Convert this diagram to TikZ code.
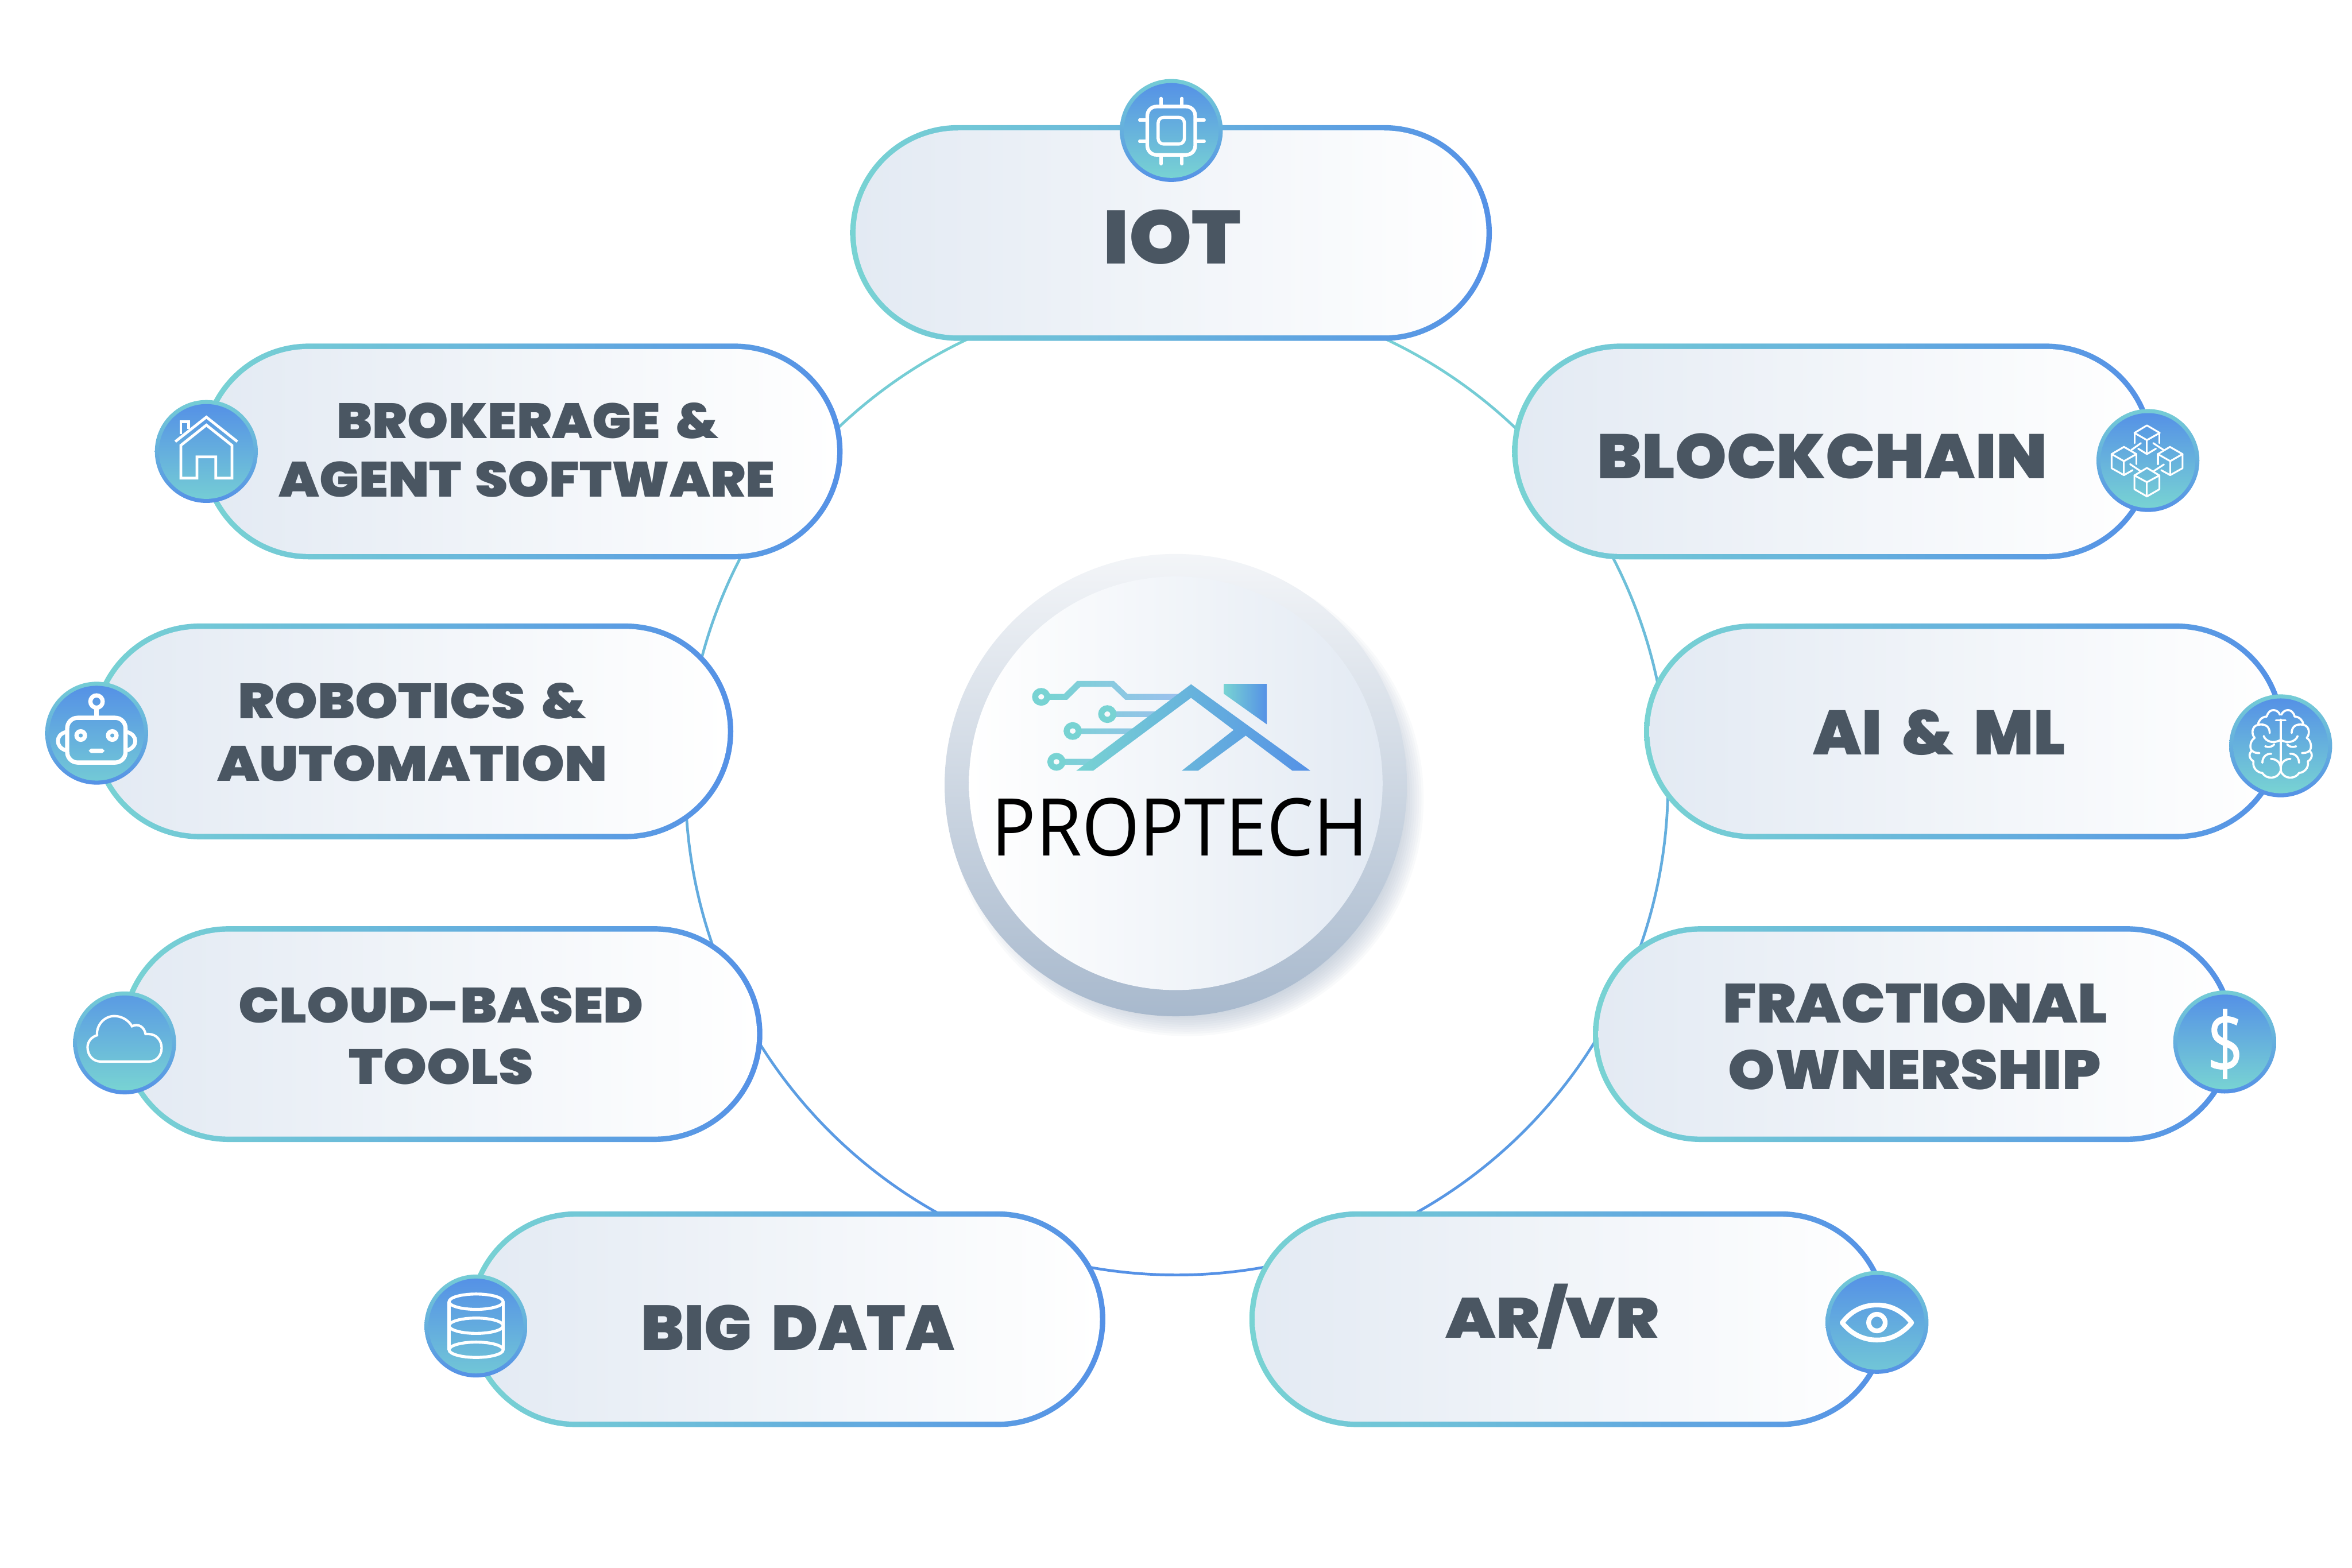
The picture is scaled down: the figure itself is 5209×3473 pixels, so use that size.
\documentclass[tikz,border=0pt]{standalone}
\usepackage{graphicx}
\usepackage{fontspec}
\usetikzlibrary{shapes.misc}
\newfontfamily\pillfont{Poppins Black}
\newfontfamily\hubfont{Open Sans}
\newfontfamily\dolfont[FakeBold=0.8]{Open Sans}
\definecolor{tealc}{HTML}{78D3D3}
\definecolor{bluec}{HTML}{5591E6}
\definecolor{pilll}{HTML}{E3EAF3}
\definecolor{labc}{HTML}{4A5662}
\definecolor{lavc}{HTML}{9CC0EE}
\definecolor{shadc}{HTML}{93A6BF}
\definecolor{hubtop}{HTML}{F3F5F8}
\definecolor{hubbot}{HTML}{A8B9CD}
\newdimen\pxu \pxu=0.01cm
\tikzset{
  pillout/.style={rounded rectangle,inner sep=0pt,outer sep=0pt,left color=tealc,right color=bluec},
  pillin/.style={rounded rectangle,inner sep=0pt,outer sep=0pt,left color=pilll,right color=white},
  ballout/.style={circle,inner sep=0pt,outer sep=0pt,minimum size=228\pxu,top color=tealc!90!bluec,bottom color=bluec},
  labeltext/.style={inner sep=0pt,outer sep=0pt,anchor=base,text=labc},
  ico/.style={draw=white,line width=#1*0.01cm,fill=none,line join=miter},
  icor/.style={draw=white,line width=#1*0.01cm,fill=none,line join=round,line cap=round},
}
% name, cx, cy, w, h
\newcommand{\pillbox}[5]{%
  \node[pillout,minimum width=#4\pxu,minimum height=#5\pxu] (#1o) at (#2,#3) {};
  \pgfmathsetmacro{\iw}{#4-24}\pgfmathsetmacro{\ih}{#5-24}%
  \node[pillin,minimum width=\iw\pxu,minimum height=\ih\pxu] (#1i) at (#2,#3) {};
}
% name, x, baseline y, W, H, text
\newcommand{\lab}[6]{\node[labeltext] (#1) at (#2,#3) {\resizebox{#4\pxu}{#5\pxu}{\pillfont #6}};}
% name, x, y, shading options of inner disc
\newcommand{\ball}[4]{%
  \node[ballout] (#1o) at (#2,#3) {};
  \node[circle,inner sep=0pt,outer sep=0pt,minimum size=210\pxu,#4] (#1i) at (#2,#3) {};
}
\newcommand{\brainhalf}{%
  \draw[icor=4.6] (-5,-192) .. controls (-15,-225) and (-75,-245) .. (-93,-180)
    .. controls (-125,-178) and (-148,-155) .. (-151,-125)
    .. controls (-195,-115) and (-195,-60) .. (-173,-38)
    .. controls (-210,-15) and (-205,40) .. (-191,48)
    .. controls (-220,70) and (-205,105) .. (-181,118)
    .. controls (-190,165) and (-150,195) .. (-123,195)
    .. controls (-95,240) and (-20,240) .. (0,180);
  \draw[icor=4.6] (-32,-155) -- (0,-155);
  \draw[icor=4.6] (-151,-125) .. controls (-100,-135) and (-73,-110) .. (-73,-70);
  \draw[icor=4.6] (-113,-50) .. controls (-100,-15) and (-50,5) .. (0,-25);
  \draw[icor=4.6] (-103,18) .. controls (-75,28) and (-55,20) .. (-43,5);
  \draw[icor=4.6] (-191,48) .. controls (-175,62) and (-160,63) .. (-141,63);
  \draw[icor=4.6] (-63,68) .. controls (-95,65) and (-122,90) .. (-122,128);
  \draw[icor=4.6] (-65,102) .. controls (-30,102) and (0,125) .. (0,165);
}
\begin{document}
\begin{tikzpicture}[x=0.01cm,y=-0.01cm]
\useasboundingbox (0,0) rectangle (5209,3473);
\fill[white] (0,0) rectangle (5209,3473);
% ring
\shade[even odd rule,top color=tealc,bottom color=bluec] (2606,1736) circle (1091) (2606,1736) circle (1085);
% pills
\pillbox{iot}{2593.5}{516}{1421}{478}
\pillbox{brok}{1155.5}{1000}{1421}{478}
\pillbox{robo}{913.5}{1620}{1421}{478}
\pillbox{clou}{978}{2290.5}{1421}{478}
\pillbox{bigd}{1742.5}{2922}{1411}{478}
\pillbox{bloc}{4059.5}{1000}{1421}{478}
\pillbox{aiml}{4350}{1620}{1418}{478}
\pillbox{frac}{4238.5}{2290.5}{1421}{478}
\pillbox{arvr}{3474.5}{2922}{1415}{478}
% labels
\lab{tiot}{2596}{584}{305}{120}{IOT}
\lab{tbr1}{1169}{971}{845}{79}{BROKERAGE\hspace{.12em} \&}
\lab{tbr2}{1167}{1101}{1099}{79}{AGENT\hspace{.08em} SOFTWARE}
\lab{tro1}{913}{1592}{772}{79}{ROBOTICS\hspace{.12em} \&}
\lab{tro2}{913}{1730}{864}{79}{AUTOMATION}
\lab{tcl1}{977}{2265}{897}{79}{CLOUD-BASED}
\lab{tcl2}{977}{2401}{409}{79}{TOOLS}
\lab{tbi}{1767}{2990}{694}{100}{BIG\hspace{.14em} DATA}
\lab{tbl}{4036}{1060}{997}{100}{BLOCKCHAIN}
\lab{tai}{4295}{1672}{558}{100}{AI\hspace{.14em} \&\hspace{.14em} ML}
\lab{tfr1}{4242}{2266}{852}{88}{FRACTIONAL}
\lab{tfr2}{4240}{2413}{826}{88}{OWNERSHIP}
\lab{tar}{3438}{2964}{472}{120}{AR/VR}
% icon discs
\ball{biot}{2594}{289}{top color=bluec,bottom color=tealc}
\ball{bbrk}{457}{1000}{top color=bluec,bottom color=tealc!90!bluec}
\ball{brob}{214}{1624}{top color=bluec,bottom color=tealc!85!bluec}
\ball{bclo}{276}{2310}{top color=bluec!85!tealc,middle color=tealc!80!bluec,bottom color=tealc}
\ball{bbig}{1054}{2937}{top color=bluec,bottom color=tealc!80!bluec}
\ball{bblo}{4757}{1020}{top color=bluec,bottom color=tealc}
\ball{bain}{5051}{1652}{top color=bluec,bottom color=tealc}
\ball{bfra}{4927}{2308}{top color=bluec,bottom color=tealc}
\ball{bar}{4157}{2929}{top color=bluec,bottom color=tealc!80!bluec}
% chip icon
\draw[ico=8,rounded corners=20\pxu] (2541,236) rectangle (2647,343);
\draw[ico=7,rounded corners=12\pxu] (2565,260) rectangle (2623,319);
\foreach \xx in {2571.5,2617.5}{
  \draw[icor=7] (\xx,218) -- (\xx,236);
  \draw[icor=7] (\xx,343) -- (\xx,363);
}
\foreach \yy in {266,313}{
  \draw[icor=7] (2524,\yy) -- (2541,\yy);
  \draw[icor=7] (2647,\yy) -- (2667,\yy);
}
% house icon
\begin{scope}[shift={(300,850)},x=0.00333cm,y=-0.00333cm]
  \draw[ico=6] (265,385) -- (472,222) -- (678,385);
  \draw[ico=6] (302,335) -- (302,253) -- (355,253) -- (355,300);
  \draw[ico=6] (642,410) -- (472,275) -- (302,410) -- (302,628) -- (409,628) -- (409,487) -- (534,487) -- (534,628) -- (642,628) -- cycle;
\end{scope}
% robot icon
\begin{scope}[shift={(70,1490)},x=0.00333cm,y=-0.00333cm]
  \draw[ico=9.3] (432,192) circle (41);
  \draw[ico=9.3] (432,240) -- (432,300);
  \draw[ico=9.3,rounded corners=23\pxu] (237,300) rectangle (625,598);
  \draw[ico=9.5] (327,418) circle (28);
  \draw[ico=9.5] (537,418) circle (28);
  \fill[white] (380,520) -- (395,505) -- (470,505) -- (486,520) -- (470,535) -- (395,535) -- cycle;
  \draw[ico=8.5] (228,395) .. controls (190,405) and (175,430) .. (175,455) .. controls (175,480) and (190,505) .. (228,517);
  \draw[ico=8.5] (636,395) .. controls (672,405) and (690,430) .. (690,455) .. controls (690,480) and (672,505) .. (636,517);
\end{scope}
% cloud icon
\begin{scope}[shift={(130,2160)},x=0.00333cm,y=-0.00333cm]
  \draw[ico=5.3] (280,575) .. controls (230,575) and (192,535) .. (192,480)
    .. controls (192,440) and (220,410) .. (255,400)
    .. controls (250,330) and (305,272) .. (370,272)
    .. controls (420,272) and (465,300) .. (488,340)
    .. controls (530,318) and (570,345) .. (578,392)
    -- (600,392) .. controls (650,392) and (685,435) .. (685,485)
    .. controls (685,535) and (650,575) .. (600,575) -- cycle;
\end{scope}
% database icon
\begin{scope}[shift={(910,2800)},x=0.00333cm,y=-0.00333cm]
  \foreach \yy in {250,410,570}{\draw[ico=6.6] (434,\yy) ellipse (180 and 51);}
  \draw[ico=6.6] (254,250) -- (254,570);
  \draw[ico=6.6] (614,250) -- (614,570);
\end{scope}
% blockchain icon
\begin{scope}[shift={(4620,880)},x=0.00333cm,y=-0.00333cm]
  \draw[icor=4] (405,187) -- (490,237) -- (405,285) -- (322,237) -- cycle;
  \draw[icor=4] (405,285) -- (405,378);
  \draw[icor=4] (322,237) -- (322,305);
  \draw[icor=4] (488,237) -- (488,305);
  \draw[icor=4] (347,342) -- (405,378) -- (465,342);
  \draw[icor=4] (365,305) -- (302,350);
  \draw[icor=4] (447,305) -- (515,350);
  \draw[icor=4] (252,330) -- (335,378) -- (252,425) -- (170,378) -- cycle;
  \draw[icor=4] (170,378) -- (170,472) -- (252,518) -- (310,485);
  \draw[icor=4] (252,425) -- (252,518);
  \draw[icor=4] (335,378) -- (335,445);
  \draw[icor=4] (558,330) -- (642,378) -- (560,425) -- (478,378) -- cycle;
  \draw[icor=4] (642,378) -- (642,472) -- (560,518) -- (500,485);
  \draw[icor=4] (560,425) -- (560,518);
  \draw[icor=4] (478,378) -- (478,445);
  \draw[icor=4] (405,470) -- (488,520) -- (405,565) -- (322,520) -- cycle;
  \draw[icor=4] (322,520) -- (322,612) -- (405,660) -- (488,612) -- (488,520);
  \draw[icor=4] (405,565) -- (405,660);
  \draw[icor=4] (293,445) -- (360,490);
  \draw[icor=4] (518,447) -- (452,490);
\end{scope}
% brain icon
\begin{scope}[shift={(5051,1647)},x=0.00333cm,y=-0.00333cm]
  \brainhalf
\end{scope}
\begin{scope}[shift={(5051,1647)},x=-0.00333cm,y=-0.00333cm]
  \brainhalf
\end{scope}
\draw[icor=4.6] (5051,1594) -- (5051,1707);
% dollar icon
\node[inner sep=0pt,text=white] (tdol) at (4928,2312) {\resizebox*{80\pxu}{154\pxu}{\dolfont \$}};
% eye icon
\begin{scope}[shift={(4020,2790)},x=0.00333cm,y=-0.00333cm]
  \draw[ico=10.6,line join=round] (180,420) .. controls (240,340) and (320,302) .. (411,302) .. controls (500,302) and (580,340) .. (642,420) .. controls (580,495) and (500,535) .. (411,535) .. controls (320,535) and (240,495) .. (180,420) -- cycle;
  \draw[ico=10.6] (411,419) circle (55);
\end{scope}
% hub
\foreach \rr in {475,480,...,525}{
  \fill[shadc,opacity=0.05] (2628,1770) circle (\rr);
}
\node[circle,inner sep=0pt,outer sep=0pt,minimum size=1024\pxu,top color=hubtop,bottom color=hubbot] (hubo) at (2604,1739) {};
\node[circle,inner sep=0pt,outer sep=0pt,minimum size=916\pxu,left color=white,right color=pilll] (hubi) at (2604,1735) {};
% logo
\begin{scope}[shift={(2050,1180)},x=0.007653cm,y=-0.007334cm]
  \shade[left color=tealc,right color=lavc]
    (359,486) -- (400,486) -- (438,447) -- (544,447) -- (583,486) -- (735,486) -- (710,504) -- (577,504) -- (538,465) -- (447,465) -- (409,504) -- (359,504) -- cycle
    (540,539) -- (668,539) -- (643,556) -- (540,556) -- cycle
    (440,590) -- (610,590) -- (585,607) -- (440,607) -- cycle
    (395,682) -- (485,682) -- (462,700) -- (395,700) -- cycle;
  \foreach \cx/\cy in {334/495,525/547,425/598,378/691}{
    \draw[tealc,line width=0.135cm] (\cx,\cy) circle (17.5);
  }
  \shade[left color=tealc,right color=bluec]
    (435,718) -- (767,457) -- (1112,718) -- (1060,718) -- (925,612) -- (787,718) -- (740,718) -- (890,595) -- (767,498) -- (484,718) -- cycle;
  \shade[left color=tealc,right color=bluec]
    (862,456) -- (986,456) -- (986,578) -- (862,486) -- cycle;
\end{scope}
\node[inner sep=0pt,outer sep=0pt,anchor=base] (tptc) at (2613,1895) {\resizebox{835\pxu}{128\pxu}{\hubfont PROPTECH}};
\end{tikzpicture}
\end{document}
